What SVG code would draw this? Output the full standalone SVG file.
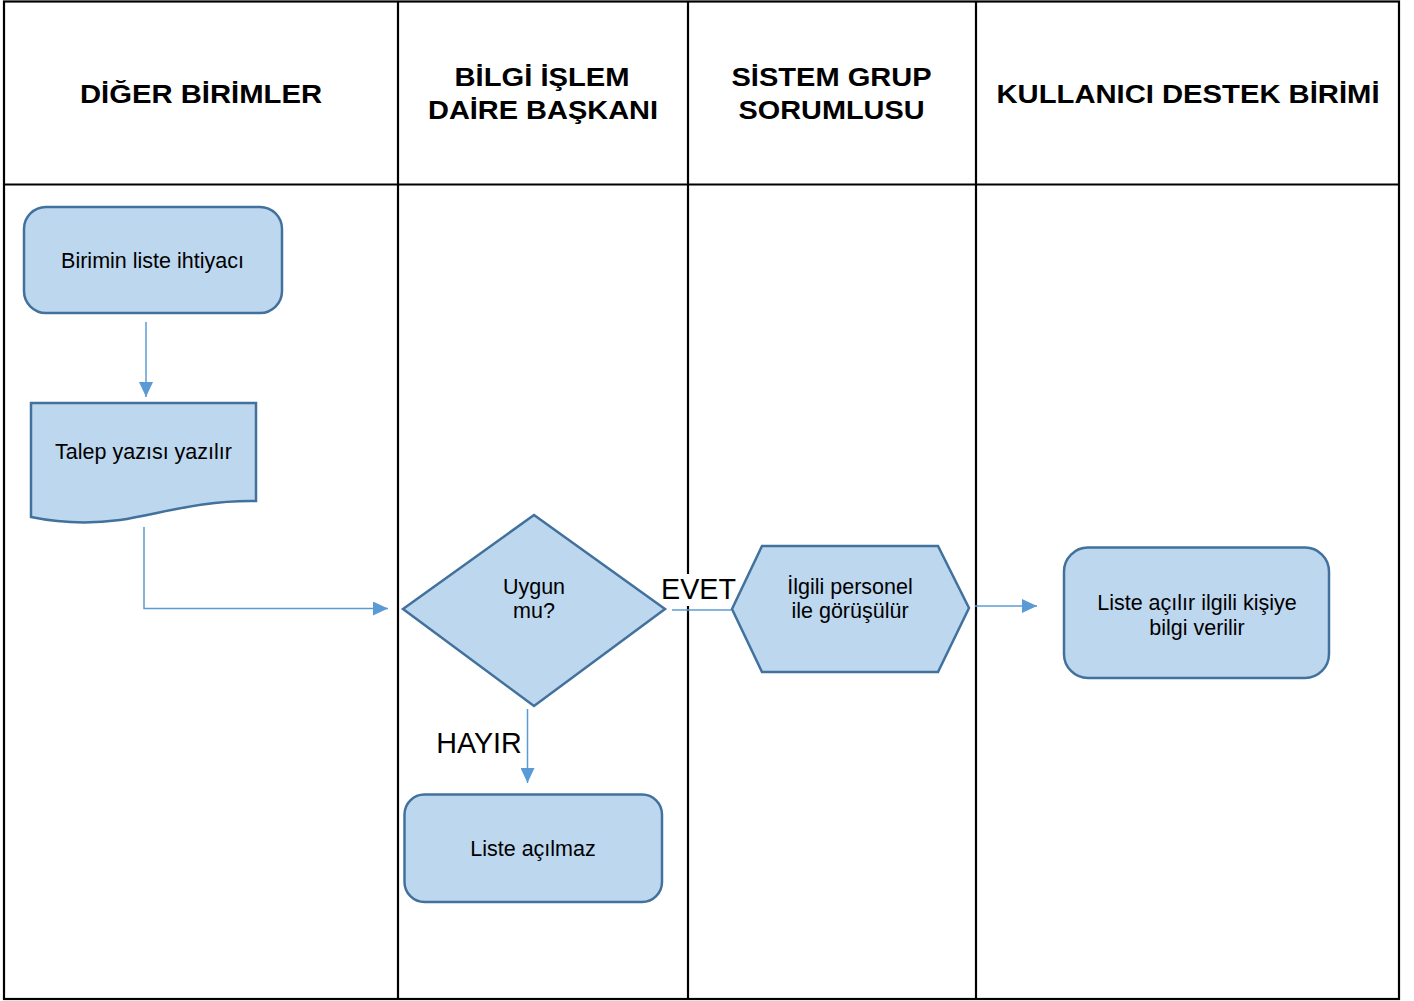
<svg xmlns="http://www.w3.org/2000/svg" width="1414" height="1001" viewBox="0 0 1414 1001">
<style>
.lane{fill:none;stroke:#000;stroke-width:2.2}
.hdr{font-family:"Liberation Sans",Arial,sans-serif;font-weight:bold;font-size:26.5px;fill:#000;text-anchor:middle}
.node{fill:#BDD7EE;stroke:#41719C;stroke-width:2.5}
.txt{font-family:"Liberation Sans",Arial,sans-serif;font-size:21.5px;fill:#000;text-anchor:middle}
.lbl{font-family:"Liberation Sans",Arial,sans-serif;font-size:28.7px;fill:#000;text-anchor:middle}
.conn{fill:none;stroke:#5B9BD5;stroke-width:1.5}
</style>
<defs>
<marker id="ah" markerWidth="15" markerHeight="14" refX="15" refY="7" orient="auto" markerUnits="userSpaceOnUse">
<path d="M0,0 L15,7 L0,14 Z" fill="#5B9BD5"/>
</marker>
</defs>
<rect width="1414" height="1001" fill="#fff"/>
<g id="lanes">
<rect class="lane" x="4" y="1.5" width="1395" height="997.5"/>
<line class="lane" x1="4" y1="184.5" x2="1399" y2="184.5"/>
<line class="lane" x1="398" y1="1.5" x2="398" y2="999"/>
<line class="lane" x1="688" y1="1.5" x2="688" y2="999"/>
<line class="lane" x1="976" y1="1.5" x2="976" y2="999"/>
<text class="hdr" x="201" y="103" textLength="242" lengthAdjust="spacingAndGlyphs">DİĞER BİRİMLER</text>
<text class="hdr" x="542" y="86" textLength="175" lengthAdjust="spacingAndGlyphs">BİLGİ İŞLEM</text>
<text class="hdr" x="543" y="119" textLength="230" lengthAdjust="spacingAndGlyphs">DAİRE BAŞKANI</text>
<text class="hdr" x="831.5" y="86" textLength="200" lengthAdjust="spacingAndGlyphs">SİSTEM GRUP</text>
<text class="hdr" x="831.5" y="119" textLength="186" lengthAdjust="spacingAndGlyphs">SORUMLUSU</text>
<text class="hdr" x="1188" y="103" textLength="383" lengthAdjust="spacingAndGlyphs">KULLANICI DESTEK BİRİMİ</text>
</g>
<g id="connectors">
<path class="conn" d="M146,322 V397" marker-end="url(#ah)"/>
<path class="conn" d="M144,527 V608.5 H388" marker-end="url(#ah)"/>
<path class="conn" d="M672,610 H731"/>
<path class="conn" d="M975,606 H1037" marker-end="url(#ah)"/>
<path class="conn" d="M527.5,709 V783" marker-end="url(#ah)"/>
<rect x="658" y="574" width="80" height="32" fill="#fff"/>
<text class="lbl" x="698.5" y="598.5">EVET</text>
<text class="lbl" x="479" y="753">HAYIR</text>
</g>
<g id="n1">
<rect class="node" x="24" y="207" width="258" height="106" rx="22"/>
<text class="txt" x="152.5" y="268">Birimin liste ihtiyacı</text>
</g>
<g id="n2">
<path class="node" d="M31,403 H256 V501 C200,500 160,514 120,520 C90,524 60,523 31,517 Z"/>
<text class="txt" x="143.5" y="459">Talep yazısı yazılır</text>
</g>
<g id="n3">
<polygon class="node" points="534,515 665,609 534,706 403,609"/>
<text class="txt" x="534" y="594">Uygun</text>
<text class="txt" x="534" y="618">mu?</text>
</g>
<g id="n4">
<polygon class="node" points="732,609 762,546 938,546 969,608 938,672 762,672"/>
<text class="txt" x="850" y="594">İlgili personel</text>
<text class="txt" x="850" y="618">ile görüşülür</text>
</g>
<g id="n5">
<rect class="node" x="1064" y="547.5" width="265" height="130.5" rx="24"/>
<text class="txt" x="1197" y="610">Liste açılır ilgili kişiye</text>
<text class="txt" x="1197" y="635">bilgi verilir</text>
</g>
<g id="n6">
<rect class="node" x="404.5" y="794.5" width="257.5" height="107.5" rx="20"/>
<text class="txt" x="533" y="856">Liste açılmaz</text>
</g>
</svg>
